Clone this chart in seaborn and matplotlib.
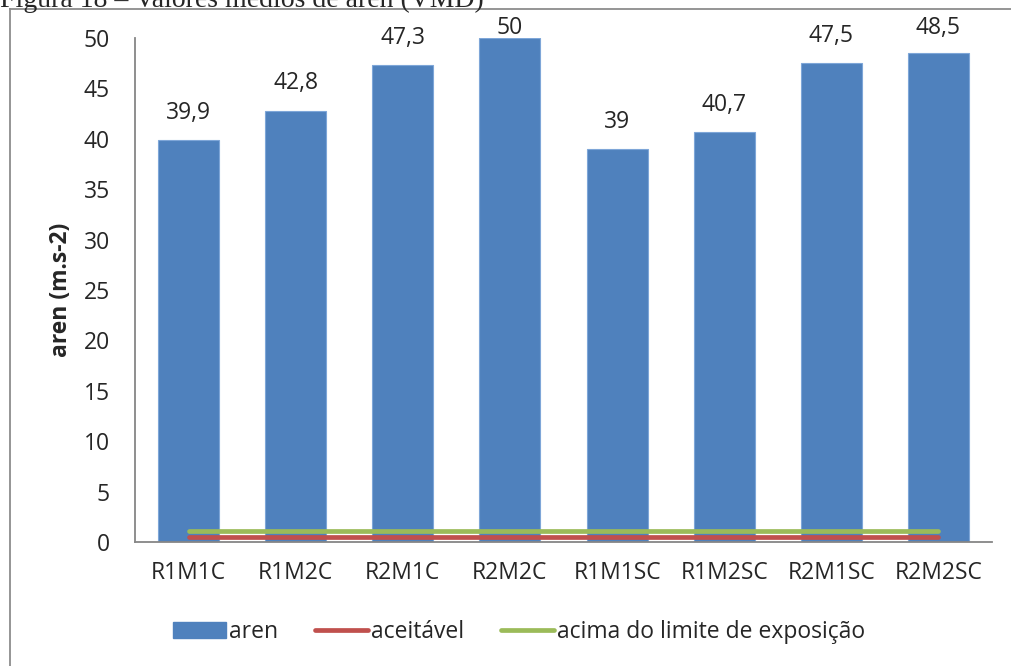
import matplotlib
matplotlib.use('Agg')
import matplotlib.pyplot as plt
import seaborn as sns
import pandas as pd
from matplotlib.patches import Patch
from matplotlib.lines import Line2D

# Data
categories = ['R1M1C', 'R1M2C', 'R2M1C', 'R2M2C', 'R1M1SC', 'R1M2SC', 'R2M1SC', 'R2M2SC']
aren = [39.9, 42.8, 47.3, 50, 39, 40.7, 47.5, 48.5]
bar_labels = ['39,9', '42,8', '47,3', '50', '39', '40,7', '47,5', '48,5']
aceitavel = [0.5] * 8
acima_limite = [1.1] * 8

sns.set_theme(style='white')
plt.rcParams['font.family'] = ['Open Sans', 'DejaVu Sans']

FS = 16.5
BLUE, RED, GREEN, GRAY = '#4f81bd', '#c0504d', '#9bbb59', '#868686'

df = pd.DataFrame({'cat': categories, 'aren': aren})

fig = plt.figure(figsize=(10.12, 6.66), dpi=100)

# outer chart frame: only its left and top edges are inside the picture
frame = fig.add_axes([10 / 1012, 0, 1 - 10 / 1012, 1 - 9 / 666])
frame.set_xticks([])
frame.set_yticks([])
frame.patch.set_alpha(0)
for side in ['right', 'bottom']:
    frame.spines[side].set_visible(False)
for side in ['left', 'top']:
    frame.spines[side].set_visible(True)
    frame.spines[side].set_color('#8c8c8c')
    frame.spines[side].set_linewidth(1.3)

ax = fig.add_axes([135 / 1012, 124 / 666, 857 / 1012, 504 / 666])

sns.barplot(data=df, x='cat', y='aren', color=BLUE, saturation=1, width=0.57, ax=ax)
for p in ax.patches:
    p.set_edgecolor('#7ea6d8')
    p.set_linewidth(0.8)

# reference lines, drawn from first to last category
x = list(range(len(categories)))
ax.plot(x, aceitavel, color=RED, lw=3.4, solid_capstyle='round')
ax.plot(x, acima_limite, color=GREEN, lw=3.4, solid_capstyle='round')

# data labels above the bars, kept inside the chart like excel does
for i, (v, lab) in enumerate(zip(aren, bar_labels)):
    ax.text(i, min(v + 2.7, 51.0), lab, ha='center', va='center',
            fontsize=FS, clip_on=False)

ax.set_ylim(0, 50)
ax.set_xlim(-0.5, 7.5)
ax.set_yticks(range(0, 51, 5))
ax.tick_params(axis='y', labelsize=FS, pad=18, length=0)
ax.tick_params(axis='x', labelsize=FS, pad=14, length=0)
ax.set_xlabel('')
ax.set_ylabel('aren (m.s-2)', fontsize=FS, fontweight='bold', labelpad=8)
ax.patch.set_alpha(0)
for side in ['top', 'right']:
    ax.spines[side].set_visible(False)
for side in ['left', 'bottom']:
    ax.spines[side].set_color(GRAY)
    ax.spines[side].set_linewidth(1.3)

# legend
handles = [Patch(color=BLUE),
           Line2D([0], [0], color=RED, lw=3.4, solid_capstyle='round'),
           Line2D([0], [0], color=GREEN, lw=3.4, solid_capstyle='round')]
fig.legend(handles, ['aren', 'aceitável', 'acima do limite de exposição'],
           loc='center', bbox_to_anchor=(0.513, 0.051), ncol=3, frameon=False,
           fontsize=FS, handlelength=2.3, handletextpad=0.15, columnspacing=1.6,
           handleheight=0.7, borderpad=0)

# caption of the source page, cut at the top
fig.text(0.0, 1 - 7 / 666, 'Figura 18 – Valores médios de aren (VMD)', fontsize=20,
         family='Liberation Serif', va='baseline', ha='left')

fig.savefig('out.png', dpi=100)
